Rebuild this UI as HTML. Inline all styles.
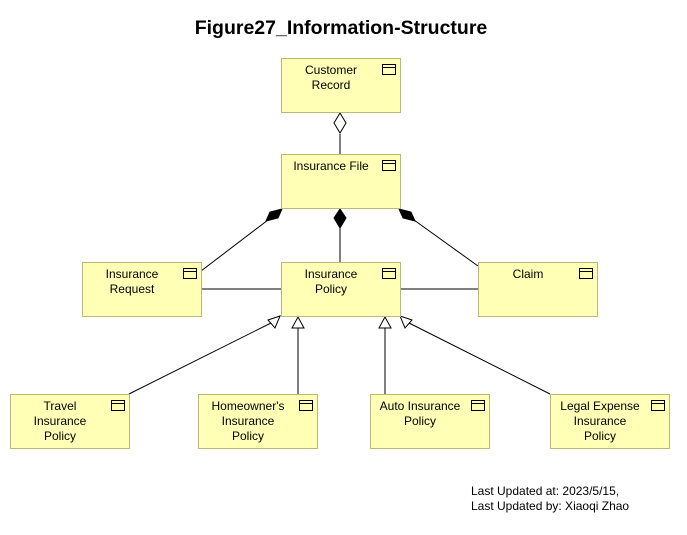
<!DOCTYPE html>
<html><head><style>
body{margin:0;background:#fff;width:687px;height:535px;overflow:hidden;font-family:"Liberation Sans",sans-serif}
.t{position:absolute;left:0;width:682px;top:17px;text-align:center;font-weight:bold;font-size:19.5px}
.b{position:absolute;width:120px;height:55px;background:#ffffb5;border:1px solid #b9b97a;box-sizing:border-box;font-size:12px;text-align:center;line-height:15px;padding-top:4px}
.b span{display:inline-block;width:90px;margin-right:20px}
.b:after{content:"";position:absolute;right:4px;top:5px;width:14px;height:11px;border:1px solid #000;box-sizing:border-box;background:linear-gradient(#000,#000) 0 2px/100% 1px no-repeat}
.f{position:absolute;left:471px;top:484px;font-size:12px;line-height:15px}
</style></head><body>
<div class="t">Figure27_Information-Structure</div>
<svg width="687" height="535" style="position:absolute;left:0;top:0">
<g stroke="#000" fill="none" stroke-width="1">
<line x1="340" y1="134" x2="340" y2="154"/>
<line x1="268" y1="220" x2="201" y2="271"/>
<line x1="340" y1="228" x2="340" y2="262"/>
<line x1="414" y1="220" x2="478" y2="266"/>
<line x1="201" y1="289" x2="281" y2="289"/>
<line x1="400" y1="289" x2="478" y2="289"/>
<line x1="271" y1="323" x2="129" y2="394"/>
<line x1="298" y1="328" x2="298" y2="394"/>
<line x1="385" y1="328" x2="385" y2="394"/>
<line x1="409" y1="323" x2="550" y2="394"/>
</g>
<polygon points="340,113 346,123 340,133 334,123" fill="#fff" stroke="#000"/>
<polygon points="340,209 346,218 340,228 334,218" fill="#000" stroke="#000"/>
<polygon points="282,209 278,218 266,221 270,212" fill="#000" stroke="#000"/>
<polygon points="399,209 403,218 415,221 411,212" fill="#000" stroke="#000"/>
<g fill="#fff" stroke="#000">
<polygon points="280,316 275,328 268,320"/>
<polygon points="298,317 304,328 292,328"/>
<polygon points="385,317 391,328 379,328"/>
<polygon points="400,316 412,320 405,328"/>
</g>
</svg>
<div class="b" style="left:281px;top:58px"><span>Customer<br>Record</span></div>
<div class="b" style="left:281px;top:154px"><span>Insurance File</span></div>
<div class="b" style="left:82px;top:262px"><span>Insurance<br>Request</span></div>
<div class="b" style="left:281px;top:262px"><span>Insurance<br>Policy</span></div>
<div class="b" style="left:478px;top:262px"><span>Claim</span></div>
<div class="b" style="left:10px;top:394px"><span>Travel<br>Insurance<br>Policy</span></div>
<div class="b" style="left:198px;top:394px"><span>Homeowner's<br>Insurance<br>Policy</span></div>
<div class="b" style="left:370px;top:394px"><span>Auto Insurance<br>Policy</span></div>
<div class="b" style="left:550px;top:394px"><span>Legal Expense<br>Insurance<br>Policy</span></div>
<div class="f">Last Updated at: 2023/5/15,<br>Last Updated by: Xiaoqi Zhao</div>
</body></html>
